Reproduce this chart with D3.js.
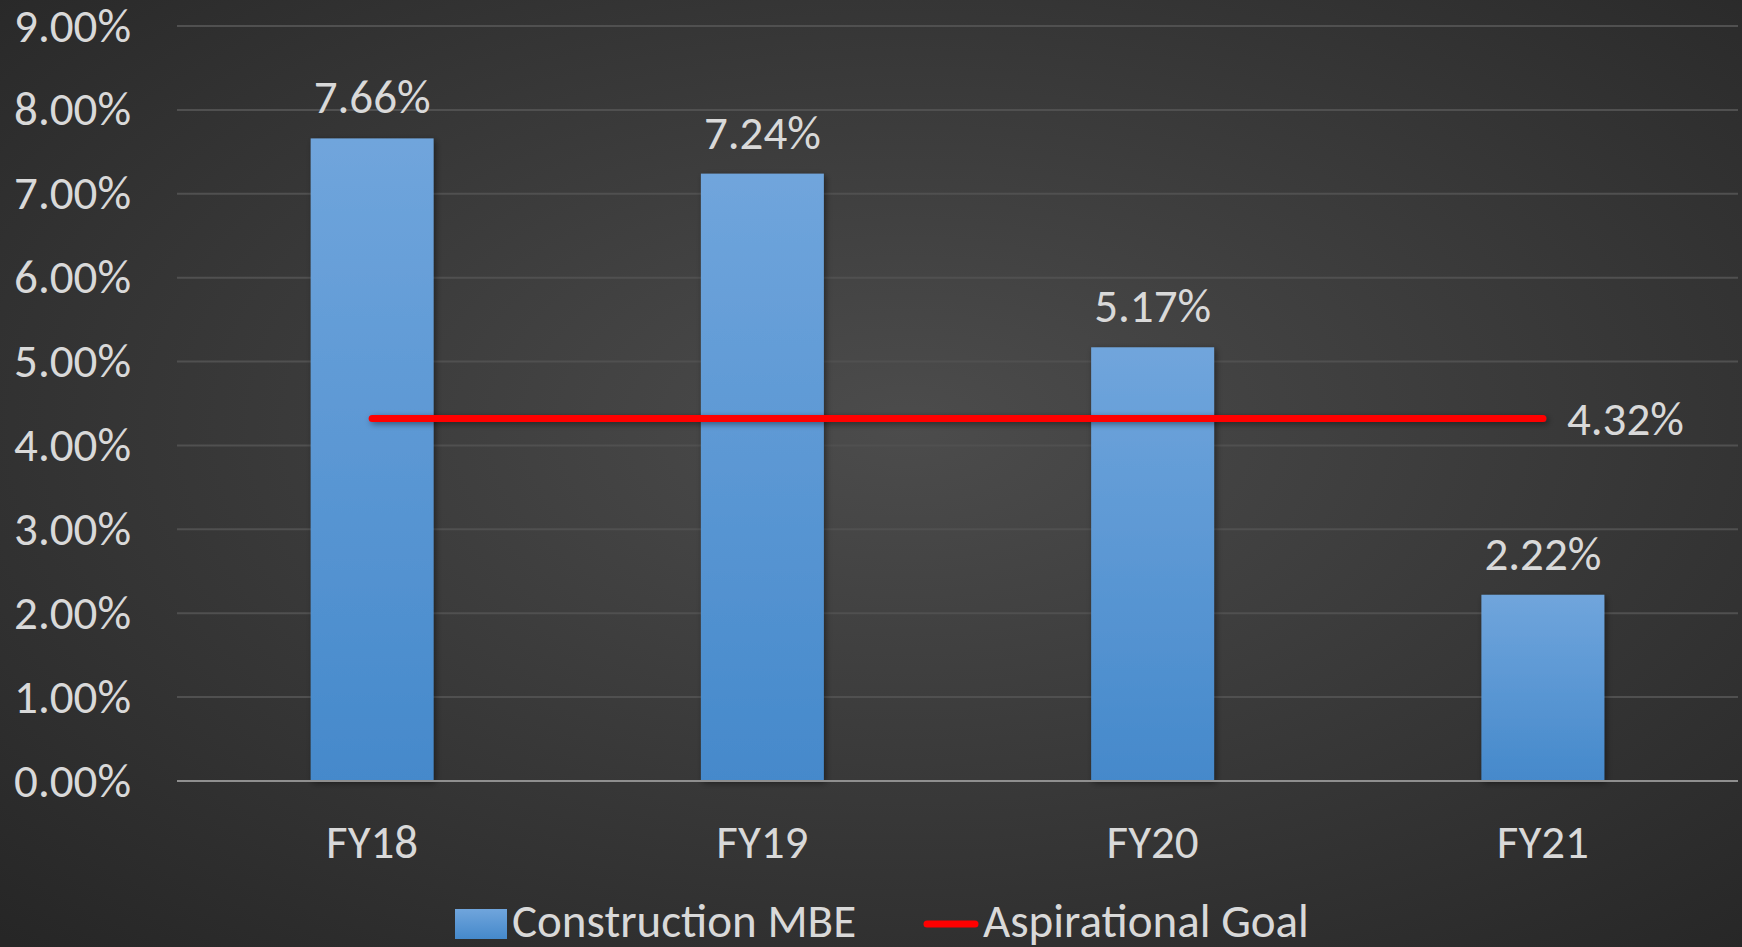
<!DOCTYPE html>
<html lang="en">
<head>
    <meta charset="UTF-8">
    <title>Construction MBE</title>
    <script src="https://cdn.jsdelivr.net/npm/d3@7"></script>
    <style>
        html, body { margin: 0; padding: 0; background: #333; }
        svg { display: block; }
    </style>
</head>
<body>
<script>
    var w = 1742;
    var h = 947;

    var categories = ["FY18", "FY19", "FY20", "FY21"];
    var mbeValues = [7.66, 7.24, 5.17, 2.22];
    var goalValues = [4.32, 4.32, 4.32, 4.32];
    var yTicks = [0, 1, 2, 3, 4, 5, 6, 7, 8, 9];
    var seriesNames = ["Construction MBE", "Aspirational Goal"];

    var font = "Carlito, Calibri, Lato, sans-serif";
    var fontSize = "47px";
    var textColor = "#d9d9d9";

    var svg = d3.select("body").append("svg")
        .attr("width", w)
        .attr("height", h);

    var defs = svg.append("defs");

    // background: lighter in the middle, darker towards the edges
    var bg = defs.append("radialGradient").attr("id", "bg")
        .attr("cx", "52%").attr("cy", "45%").attr("r", "75%");
    bg.append("stop").attr("offset", "0%").attr("stop-color", "#4c4c4c");
    bg.append("stop").attr("offset", "100%").attr("stop-color", "#262626");

    var barGrad = defs.append("linearGradient").attr("id", "barGrad")
        .attr("x1", 0).attr("y1", 0).attr("x2", 0).attr("y2", 1);
    barGrad.append("stop").attr("offset", "0%").attr("stop-color", "#70a5dc");
    barGrad.append("stop").attr("offset", "100%").attr("stop-color", "#4589cb");

    // shadow in user space so it also works on the flat goal line
    var shadow = defs.append("filter").attr("id", "shadow")
        .attr("filterUnits", "userSpaceOnUse")
        .attr("x", 0).attr("y", 0).attr("width", w).attr("height", h);
    shadow.append("feDropShadow").attr("dx", 2).attr("dy", 2)
        .attr("stdDeviation", 3).attr("flood-color", "#000").attr("flood-opacity", 0.45);

    svg.append("rect").attr("width", w).attr("height", h).attr("fill", "url(#bg)");

    var x = d3.scaleBand()
        .domain(categories)
        .range([177, 1738])
        .paddingInner(0.685)
        .paddingOuter(0.3425);

    var y = d3.scaleLinear()
        .domain([0, 9])
        .range([781, 26]);

    // gridlines
    svg.append("g").selectAll("line")
        .data(yTicks.filter(function (d) { return d > 0; })).enter()
        .append("line")
        .attr("x1", 177).attr("x2", 1738)
        .attr("y1", function (d) { return y(d); })
        .attr("y2", function (d) { return y(d); })
        .attr("stroke", "#505050")
        .attr("stroke-width", 2);

    // y axis labels
    var yAxis = d3.axisLeft(y)
        .tickValues(yTicks)
        .tickSize(0)
        .tickPadding(0)
        .tickFormat(function (d) { return d.toFixed(2) + "%"; });
    var yg = svg.append("g").attr("transform", "translate(131,0)").call(yAxis);
    yg.select(".domain").remove();
    yg.selectAll("text")
        .attr("font-family", font)
        .attr("font-size", fontSize)
        .attr("fill", textColor);

    // bars
    svg.append("g").selectAll("rect")
        .data(mbeValues).enter()
        .append("rect")
        .attr("x", function (d, i) { return x(categories[i]); })
        .attr("y", function (d) { return y(d); })
        .attr("width", x.bandwidth())
        .attr("height", function (d) { return y(0) - y(d); })
        .attr("fill", "url(#barGrad)")
        .attr("filter", "url(#shadow)");

    // bar value labels
    svg.append("g").selectAll("text")
        .data(mbeValues).enter()
        .append("text")
        .attr("x", function (d, i) { return x(categories[i]) + x.bandwidth() / 2; })
        .attr("y", function (d) { return y(d) - 25; })
        .attr("text-anchor", "middle")
        .attr("font-family", font)
        .attr("font-size", fontSize)
        .attr("fill", textColor)
        .text(function (d) { return d.toFixed(2) + "%"; });

    // x axis line
    svg.append("line")
        .attr("x1", 177).attr("x2", 1738)
        .attr("y1", y(0)).attr("y2", y(0))
        .attr("stroke", "#8f8f8f")
        .attr("stroke-width", 2);

    // x axis labels
    var xAxis = d3.axisBottom(x).tickSize(0).tickPadding(0);
    var xg = svg.append("g").attr("transform", "translate(0," + y(0) + ")").call(xAxis);
    xg.select(".domain").remove();
    xg.selectAll("text")
        .attr("dy", "77px")
        .attr("font-family", font)
        .attr("font-size", fontSize)
        .attr("fill", textColor);

    // goal line
    var line = d3.line()
        .x(function (d, i) { return x(categories[i]) + x.bandwidth() / 2; })
        .y(function (d) { return y(d); });

    svg.append("path")
        .datum(goalValues)
        .attr("d", line)
        .attr("fill", "none")
        .attr("stroke", "#ff0000")
        .attr("stroke-width", 7)
        .attr("stroke-linecap", "round")
        .attr("filter", "url(#shadow)");

    var last = goalValues.length - 1;
    svg.append("text")
        .attr("x", x(categories[last]) + x.bandwidth() / 2 + 24)
        .attr("y", y(goalValues[last]) + 16)
        .attr("font-family", font)
        .attr("font-size", fontSize)
        .attr("fill", textColor)
        .text(goalValues[last].toFixed(2) + "%");

    // legend
    var legend = svg.append("g");
    legend.append("rect")
        .attr("x", 455).attr("y", 909)
        .attr("width", 52).attr("height", 30)
        .attr("fill", "url(#barGrad)");
    legend.append("text")
        .attr("x", 512).attr("y", 937)
        .attr("font-family", font)
        .attr("font-size", fontSize)
        .attr("fill", textColor)
        .text(seriesNames[0]);
    legend.append("line")
        .attr("x1", 927).attr("x2", 975)
        .attr("y1", 924).attr("y2", 924)
        .attr("stroke", "#ff0000")
        .attr("stroke-width", 7)
        .attr("stroke-linecap", "round");
    legend.append("text")
        .attr("x", 983).attr("y", 937)
        .attr("font-family", font)
        .attr("font-size", fontSize)
        .attr("fill", textColor)
        .text(seriesNames[1]);
</script>
</body>
</html>
